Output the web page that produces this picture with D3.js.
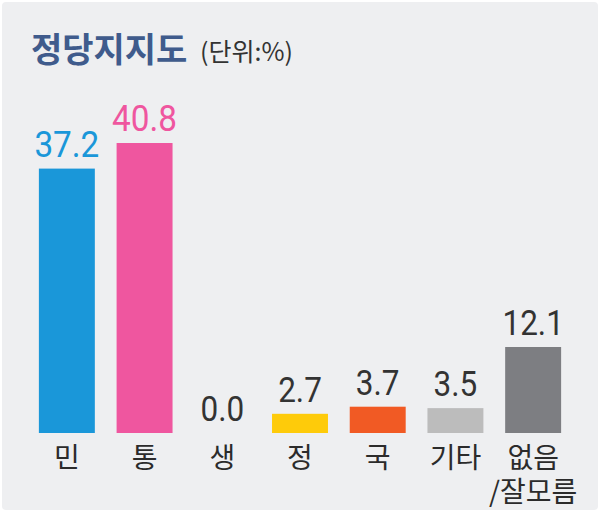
<!DOCTYPE html>
<html>
<head>
<meta charset="utf-8">
<script src="https://cdn.jsdelivr.net/npm/d3@7"></script>
<style>
  html, body { margin: 0; padding: 0; background: #ffffff; }
  svg { display: block; }
</style>
</head>
<body>
<svg id="chart" width="600" height="514"></svg>
<script>
const categories = ["민", "통", "생", "정", "국", "기타", "없음/잘모름"];
const values = [37.2, 40.8, 0.0, 2.7, 3.7, 3.5, 12.1];
const valueLabels = ["37.2", "40.8", "0.0", "2.7", "3.7", "3.5", "12.1"];
const barColors = ["#1a97d9", "#ef569f", "#cccccc", "#fecb0a", "#f15a24", "#bcbcbc", "#7d7e82"];
const labelColors = ["#1a97d9", "#ef569f", "#333333", "#333333", "#333333", "#333333", "#333333"];
const titleText = "정당지지도";
const unitText = "(단위:%)";

const svg = d3.select("#chart");
const W = 600, H = 514;

svg.append("rect").attr("x", 0).attr("y", 0).attr("width", W).attr("height", H).attr("fill", "#ffffff");
svg.append("rect").attr("x", 2).attr("y", 2).attr("width", W - 4).attr("height", H - 6)
  .attr("rx", 4).attr("fill", "#eeeff1");

const baseline = 433;
const x = d3.scaleBand().domain(categories).range([28, 572]).paddingInner(0.28).paddingOuter(0.14);
const y = d3.scaleLinear().domain([0, 12.1]).range([baseline, 347]);

const numFont = "Roboto, 'Liberation Sans', Arial, sans-serif";
const krFont = "'Noto Sans CJK KR', 'Noto Sans', sans-serif";

// title
svg.append("text").attr("x", 31).attr("y", 62)
  .attr("font-family", krFont).attr("font-weight", 700).attr("font-size", 34)
  .attr("fill", "#3f5b8c").text(titleText);
svg.append("text").attr("x", 200).attr("y", 61)
  .attr("font-family", krFont).attr("font-weight", 400).attr("font-size", 25)
  .attr("fill", "#333333").text(unitText);

const data = categories.map((c, i) => ({ c, v: values[i], lab: valueLabels[i], col: barColors[i], lc: labelColors[i], i }));
const cx = d => x(d.c) + x.bandwidth() / 2;

svg.selectAll("rect.bar").data(data).join("rect").attr("class", "bar")
  .attr("x", d => x(d.c)).attr("width", x.bandwidth())
  .attr("y", d => y(d.v)).attr("height", d => baseline - y(d.v))
  .attr("fill", d => d.col);

svg.selectAll("text.val").data(data).join("text").attr("class", "val")
  .attr("transform", d => `translate(${cx(d)},${y(d.v) - 12}) scale(0.9,1)`)
  .attr("text-anchor", "middle")
  .attr("font-family", numFont)
  .attr("font-weight", 400)
  .attr("font-size", d => d.i < 2 ? 37 : 35)
  .attr("fill", d => d.lc)
  .text(d => d.lab);

// category labels (split on "/" into separate lines)
const lines = [];
data.forEach(d => {
  d.c.split("/").forEach((p, k) => lines.push({ d, text: k === 0 ? p : "/" + p, k }));
});
svg.selectAll("text.cat").data(lines).join("text").attr("class", "cat")
  .attr("x", l => cx(l.d))
  .attr("y", l => 468 + l.k * 34)
  .attr("text-anchor", "middle")
  .attr("font-family", krFont).attr("font-size", 28).attr("font-weight", 400)
  .attr("fill", "#2b2b2b")
  .text(l => l.text);
</script>
</body>
</html>
